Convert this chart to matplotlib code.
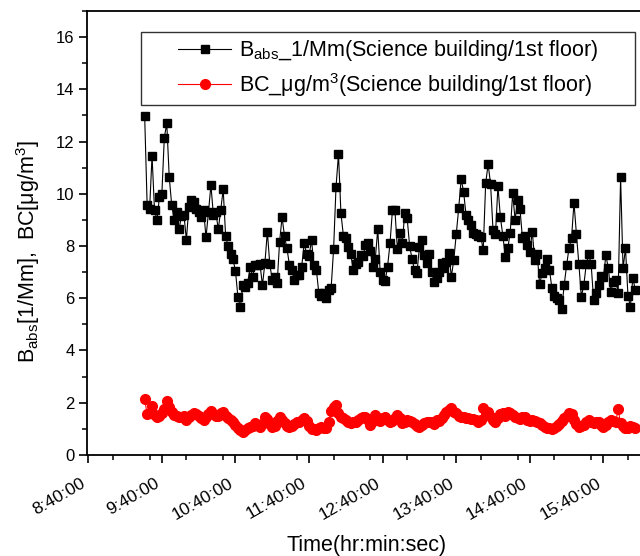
import numpy as np
import matplotlib
matplotlib.use("Agg")
import matplotlib.pyplot as plt
from matplotlib.ticker import MultipleLocator, FuncFormatter
from matplotlib.legend_handler import HandlerLine2D

plt.rcParams["font.family"] = ["Liberation Sans", "DejaVu Sans"]
plt.rcParams["mathtext.fontset"] = "custom"
plt.rcParams["mathtext.rm"] = "Liberation Sans"
plt.rcParams["mathtext.it"] = "Liberation Sans:italic"
plt.rcParams["mathtext.bf"] = "Liberation Sans:bold"

# Sampling: first record at 09:26:00, one record every 2 minutes
start_hour = 9 + 26 / 60
step_minutes = 2

# Absorption coefficient, 1/Mm
babs = [
    12.96, 9.57, 9.40, 11.46, 9.38, 9.00, 9.86, 9.99, 12.15, 12.70,
    10.65, 9.58, 9.00, 9.31, 8.64, 9.15, 9.20, 8.23, 9.50, 9.76,
    9.70, 9.40, 9.30, 9.10, 9.38, 8.33, 9.30, 10.33, 9.20, 9.30,
    8.64, 9.38, 10.17, 8.38, 8.00, 7.70, 7.49, 7.05, 6.05, 5.65,
    6.50, 6.45, 6.60, 7.20, 6.83, 7.27, 7.27, 7.30, 6.50, 7.34,
    8.55, 7.30, 6.70, 6.83, 6.57, 8.17, 9.10, 8.38, 7.91, 7.27,
    7.10, 6.70, 6.90, 6.90, 7.21, 8.10, 7.70, 7.60, 8.23, 7.27,
    7.07, 6.19, 6.10, 6.19, 6.00, 6.30, 6.38, 7.87, 10.27, 11.52,
    9.25, 8.40, 8.30, 7.97, 7.70, 7.08, 7.30, 7.40, 7.65, 7.60,
    8.05, 8.10, 7.80, 7.20, 7.50, 8.64, 7.00, 6.70, 6.65, 7.20,
    8.10, 9.38, 9.38, 7.90, 8.49, 8.10, 9.25, 9.06, 8.00, 7.50,
    7.08, 6.97, 7.97, 8.23, 7.65, 7.35, 7.70, 7.00, 6.64, 6.78,
    7.00, 7.34, 7.15, 7.40, 7.72, 6.83, 7.46, 8.46, 9.44, 10.56,
    10.08, 9.19, 9.00, 8.80, 8.50, 8.45, 8.40, 8.36, 7.85, 10.40,
    11.14, 10.37, 8.60, 8.45, 10.30, 9.10, 8.40, 7.59, 7.91, 8.50,
    10.02, 9.00, 9.76, 9.40, 8.30, 8.38, 8.05, 7.78, 8.55, 7.46,
    7.70, 6.53, 6.96, 7.15, 7.50, 7.10, 6.38, 6.10, 6.00, 5.95,
    5.58, 6.50, 7.27, 7.94, 8.30, 9.66, 8.45, 7.30, 6.06, 6.50,
    7.30, 7.70, 7.30, 5.93, 6.20, 6.50, 6.85, 6.80, 7.65, 7.15,
    6.25, 6.63, 6.70, 6.20, 10.63, 7.14, 7.91, 6.10, 5.68, 6.79,
    6.30,
]

# Black carbon mass concentration, ug/m3
bc = [
    2.13, 1.56, 1.60, 1.88, 1.53, 1.44, 1.50, 1.60, 1.75, 2.08,
    1.85, 1.65, 1.53, 1.48, 1.44, 1.46, 1.50, 1.35, 1.45, 1.53,
    1.60, 1.55, 1.50, 1.42, 1.35, 1.45, 1.55, 1.70, 1.58, 1.48,
    1.50, 1.60, 1.66, 1.50, 1.40, 1.35, 1.27, 1.15, 1.02, 0.95,
    0.89, 0.95, 1.05, 1.08, 1.12, 1.21, 1.15, 1.08, 1.20, 1.44,
    1.37, 1.20, 1.08, 1.10, 1.30, 1.47, 1.35, 1.21, 1.12, 1.08,
    1.12, 1.20, 1.27, 1.25, 1.35, 1.40, 1.30, 1.10, 1.00, 0.98,
    0.96, 1.02, 1.08, 1.05, 1.02, 1.25, 1.70, 1.85, 1.91, 1.60,
    1.47, 1.40, 1.34, 1.28, 1.21, 1.25, 1.27, 1.32, 1.40, 1.45,
    1.47, 1.35, 1.15, 1.30, 1.53, 1.40, 1.30, 1.40, 1.47, 1.35,
    1.27, 1.30, 1.40, 1.53, 1.40, 1.21, 1.25, 1.34, 1.30, 1.27,
    1.20, 1.12, 1.08, 1.15, 1.21, 1.25, 1.27, 1.25, 1.20, 1.35,
    1.30, 1.40, 1.53, 1.65, 1.72, 1.79, 1.65, 1.60, 1.50, 1.47,
    1.45, 1.42, 1.40, 1.38, 1.36, 1.32, 1.27, 1.35, 1.79, 1.60,
    1.66, 1.47, 1.35, 1.27, 1.40, 1.55, 1.60, 1.50, 1.66, 1.60,
    1.53, 1.45, 1.40, 1.38, 1.47, 1.45, 1.34, 1.30, 1.34, 1.30,
    1.25, 1.23, 1.15, 1.08, 1.05, 1.02, 1.00, 1.02, 1.10, 1.20,
    1.30, 1.40, 1.48, 1.60, 1.55, 1.34, 1.20, 1.08, 1.10, 1.15,
    1.25, 1.34, 1.25, 1.21, 1.25, 1.27, 1.15, 1.08, 1.15, 1.25,
    1.34, 1.30, 1.25, 1.75, 1.21, 1.10, 1.02, 1.05, 1.12, 1.08,
    1.02,
]

x_ticks_hours = [8 + 40/60 + k for k in range(8)]  # 8:40:00 ... 15:40:00

t_babs = start_hour + np.arange(len(babs)) * step_minutes / 60
t_bc = start_hour + np.arange(len(bc)) * step_minutes / 60

W, H = 640, 556
fig = plt.figure(figsize=(W / 100, H / 100), dpi=100)
# axes runs past the right edge of the page
ax = fig.add_axes([0.136, 0.1817, 0.941, 0.7986])

ax.plot(t_babs, babs, color="black", lw=0.8, marker="s", ms=6.0,
        mfc="black", mec="black",
        label=r"B$_{\mathrm{abs}}$_1/Mm(Science building/1st floor)")
ax.plot(t_bc, bc, color="red", lw=0.8, marker="o", ms=7.0,
        mfc="red", mec="red",
        label=r"BC_$\mathrm{\mu}$g/m$^{3}$(Science building/1st floor)")

ax.set_xlim(8 + 39/60, 16 + 50/60)
ax.set_ylim(0, 17)

ax.set_xticks(x_ticks_hours)
ax.xaxis.set_minor_locator(MultipleLocator(0.5))
ax.xaxis.set_minor_formatter(FuncFormatter(lambda v, p: ""))


def hms(v, pos):
    total = int(round(v * 60))
    return f"{total // 60}:{total % 60:02d}:00"


ax.xaxis.set_major_formatter(FuncFormatter(hms))
ax.set_yticks(range(0, 17, 2))
ax.yaxis.set_minor_locator(MultipleLocator(1))

for s in ax.spines.values():
    s.set_linewidth(1.3)
ax.tick_params(which="major", direction="out", length=6, width=1.2,
               top=False, right=False)
ax.tick_params(which="minor", direction="out", length=3.5, width=1.1,
               top=False, right=False)
ax.tick_params(axis="y", which="major", labelsize=12, pad=3)
ax.tick_params(axis="x", which="major", labelsize=12.5, pad=9)
for lbl in ax.get_xticklabels():
    lbl.set_rotation(30)
    lbl.set_ha("right")

fig.text(367 / W, 1 - 545 / H, "Time(hr:min:sec)", ha="center",
         va="center", fontsize=15.5)
fig.text(28 / W, 1 - 252 / H,
         r"B$_{\mathrm{abs}}$[1/Mm],  BC[$\mathrm{\mu}$g/m$^{3}$]",
         ha="center", va="center", rotation=90, fontsize=15.5)

# legend box spans a fixed region; handles sit indented from the left edge
lx0, lx1, ly0, ly1 = 141, 635, 32, 101
leg_fs = 15.5
handler = {line: HandlerLine2D(xpad=1.4) for line in ax.get_lines()}
leg = fig.legend(loc="upper left",
                 bbox_to_anchor=(lx0 / W, 1 - ly1 / H, (lx1 - lx0) / W,
                                 (ly1 - ly0) / H),
                 mode="expand", fontsize=leg_fs, frameon=True,
                 fancybox=False, handlelength=3.9, borderpad=0.3,
                 labelspacing=0.35, handletextpad=0.35, borderaxespad=0,
                 handler_map=handler)
leg.get_frame().set_edgecolor("black")
leg.get_frame().set_linewidth(1.0)

fig.savefig("out.png", dpi=100)
